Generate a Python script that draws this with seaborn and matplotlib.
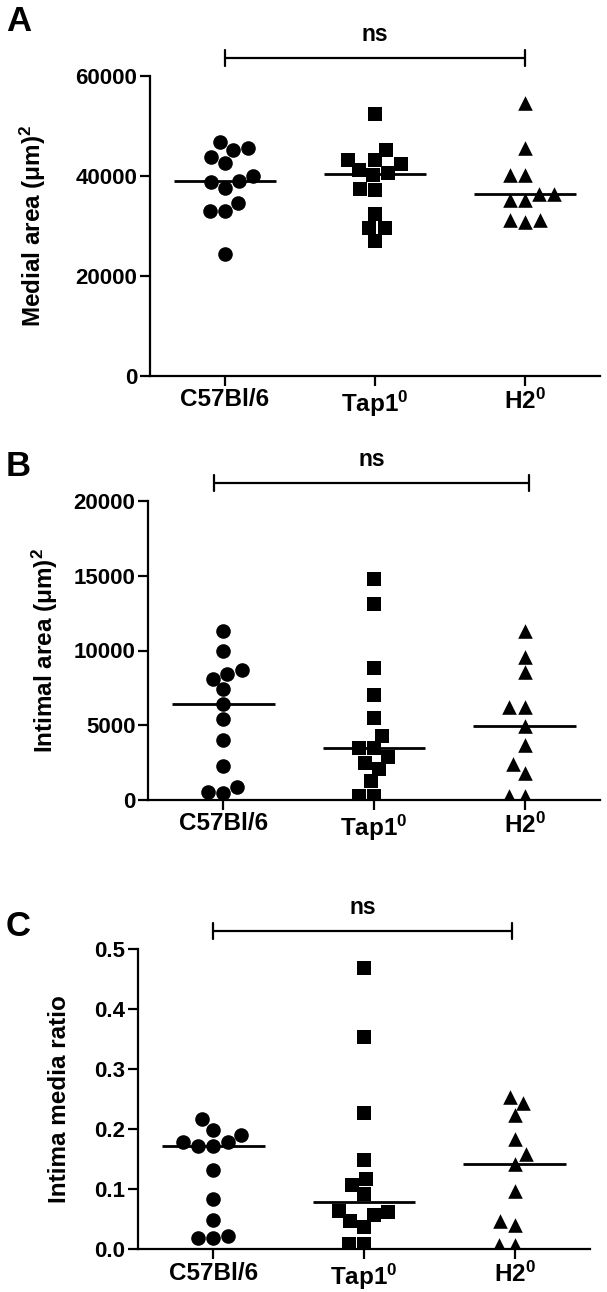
import numpy as np
import pandas as pd
import seaborn as sns
import matplotlib.pyplot as plt

# groups on the x axis
groups = ['C57Bl/6', 'Tap1', 'H2']
group_labels = ['C57Bl/6', r'Tap1$^{\mathbf{0}}$', r'H2$^{\mathbf{0}}$']
markers = ['o', 's', '^']

# A: medial area
medial_c57 = [45700, 46900, 43900, 45200, 42700, 39000, 38900, 40100, 37700, 33100, 33100, 34700, 24500]
medial_tap1 = [52400, 45200, 43200, 42400, 43300, 41200, 40200, 40700, 37300, 37500, 32400, 29700, 29700, 27000]
medial_h2 = [54700, 45700, 40200, 40200, 35200, 36500, 36500, 35200, 31200, 30900, 31200]

# B: intimal area
intimal_c57 = [11300, 10000, 8700, 8400, 8100, 7400, 6400, 5400, 4000, 2300, 900, 500, 550]
intimal_tap1 = [14800, 13100, 8800, 7000, 5500, 4300, 3450, 3500, 2850, 2450, 2050, 1250, 300, 300]
intimal_h2 = [11300, 9550, 8550, 6200, 6200, 4950, 3700, 2400, 1800, 250, 250]

# C: intima / media ratio
ratio_c57 = [0.199, 0.216, 0.190, 0.178, 0.171, 0.171, 0.178, 0.131, 0.084, 0.048, 0.022, 0.018, 0.018]
ratio_tap1 = [0.468, 0.354, 0.226, 0.149, 0.116, 0.107, 0.092, 0.064, 0.056, 0.062, 0.046, 0.037, 0.008, 0.008]
ratio_h2 = [0.243, 0.254, 0.223, 0.184, 0.158, 0.141, 0.096, 0.040, 0.046, 0.007, 0.007]

sns.set_style('ticks')
plt.rcParams['font.family'] = ['Liberation Sans', 'DejaVu Sans']
plt.rcParams['font.weight'] = 'bold'
plt.rcParams['text.color'] = 'black'
plt.rcParams['axes.labelcolor'] = 'black'
plt.rcParams['xtick.color'] = 'black'
plt.rcParams['ytick.color'] = 'black'
plt.rcParams['mathtext.fontset'] = 'custom'
plt.rcParams['mathtext.rm'] = 'Liberation Sans:bold'
plt.rcParams['mathtext.bf'] = 'Liberation Sans:bold'
plt.rcParams['mathtext.it'] = 'Liberation Sans:bold'


def make_df(a, b, c):
    return pd.DataFrame({'group': [groups[0]] * len(a) + [groups[1]] * len(b) + [groups[2]] * len(c),
                         'value': a + b + c})


panels = [
    dict(df=make_df(medial_c57, medial_tap1, medial_h2), rect=[150, 376, 450, 300],
         ylim=(0, 60000), yticks=[0, 20000, 40000, 60000], fmt='{:.0f}',
         ylabel=r'Medial area ($\mathbf{\mu}$m)$^{2}$', labx=33, letter='A', lety=5,
         bracket=(0, 2)),
    dict(df=make_df(intimal_c57, intimal_tap1, intimal_h2), rect=[148, 800, 452, 299],
         ylim=(0, 20000), yticks=[0, 5000, 10000, 15000, 20000], fmt='{:.0f}',
         ylabel=r'Intimal area ($\mathbf{\mu}$m)$^{2}$', labx=45, letter='B', lety=450,
         bracket=(-0.06, 2.03)),
    dict(df=make_df(ratio_c57, ratio_tap1, ratio_h2), rect=[138, 1249, 452, 300],
         ylim=(0, 0.5), yticks=[0, 0.1, 0.2, 0.3, 0.4, 0.5], fmt='{:.1f}',
         ylabel='Intima media ratio', labx=59, letter='C', lety=910,
         bracket=(0, 1.98)),
]

W, H = 607, 1292
fig = plt.figure(figsize=(W / 100, H / 100), dpi=100)

for p in panels:
    left, bottom_px, width, height = p['rect']
    ax = fig.add_axes([left / W, 1 - bottom_px / H, width / W, height / H])
    df = p['df']
    for g, m in zip(groups, markers):
        sns.swarmplot(data=df[df['group'] == g], x='group', y='value', order=groups,
                      marker=m, color='black', size=10.5, linewidth=0, ax=ax)
    # median lines
    for i, g in enumerate(groups):
        med = np.median(df.loc[df['group'] == g, 'value'])
        ax.hlines(med, i - 0.34, i + 0.34, color='black', lw=2, zorder=5)

    ax.set_xlim(-0.5, 2.5)
    ax.set_ylim(*p['ylim'])
    ax.set_yticks(p['yticks'])
    ax.set_yticklabels([p['fmt'].format(v) for v in p['yticks']])
    ax.set_xticks(range(3))
    ax.set_xticklabels(group_labels)
    ax.set_xlabel('')
    ax.set_ylabel('')
    for s in ['top', 'right']:
        ax.spines[s].set_visible(False)
    for s in ['left', 'bottom']:
        ax.spines[s].set_linewidth(1.6)
        ax.spines[s].set_color('black')
    ax.tick_params(direction='out', length=7, width=1.6, colors='black', pad=2)
    ax.tick_params(axis='y', labelsize=16)
    ax.tick_params(axis='x', labelsize=17.5)
    for t in ax.get_xticklabels() + ax.get_yticklabels():
        t.set_fontweight('bold')

    # y label, panel letter
    fig.text(p['labx'] / W, 1 - (bottom_px - height / 2) / H, p['ylabel'],
             rotation=90, ha='center', va='center', fontsize=17.5, fontweight='bold')
    fig.text(6 / W, 1 - p['lety'] / H, p['letter'], ha='left', va='top',
             fontsize=25, fontweight='bold')

    # significance bracket
    trans = ax.get_xaxis_transform()
    x0, x1 = p['bracket']
    yb = 1 + 18 / height
    th = 8 / height
    ax.plot([x0, x1], [yb, yb], color='black', lw=1.6, transform=trans, clip_on=False)
    for xx in (x0, x1):
        ax.plot([xx, xx], [yb - th, yb + th], color='black', lw=1.6,
                transform=trans, clip_on=False)
    ax.text((x0 + x1) / 2, yb + 12 / height, 'ns', transform=trans, ha='center',
            va='bottom', fontsize=16.5, fontweight='bold')

fig.savefig('out.png', dpi=100)
